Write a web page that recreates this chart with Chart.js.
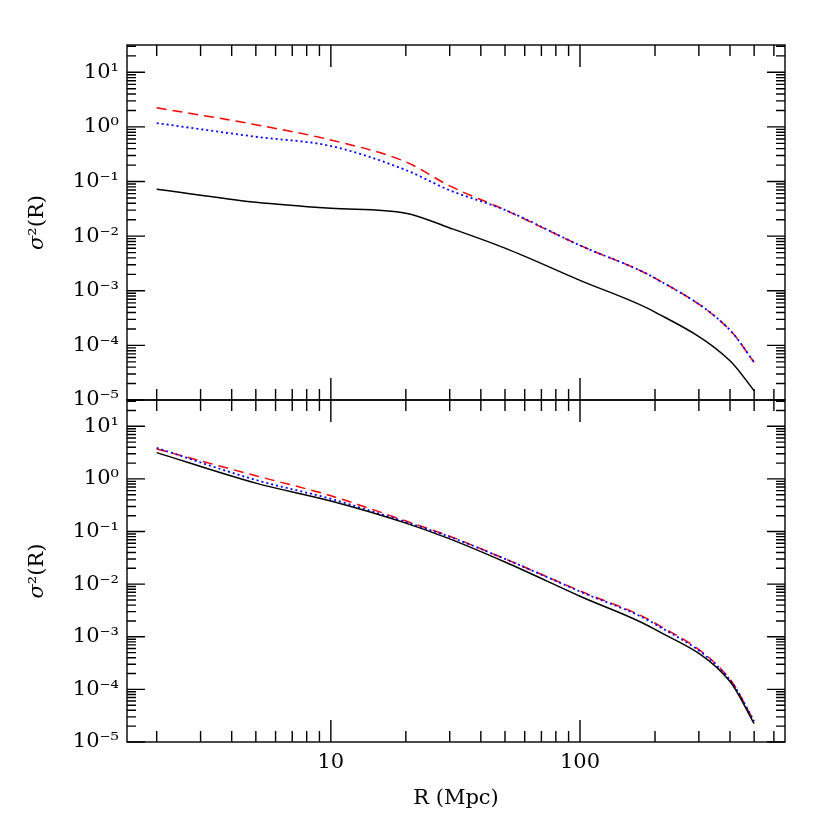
<!DOCTYPE html><html><head><script src="https://cdn.jsdelivr.net/npm/chart.js@4"></script>
<style>body{margin:0;background:#fff}canvas{position:absolute;left:0;top:0}</style></head><body>
<div style="position:absolute;left:0;top:0;width:830px;height:830px"><canvas id="c1" width="830" height="830"></canvas><canvas id="c2" width="830" height="830"></canvas></div>
<script>
const R = [2,5,10,20,30,50,100,200,400,500];
const topRed   = [0.35,0.04,-0.24,-0.64,-1.08,-1.52,-2.17,-2.77,-3.72,-4.31];
const topBlue  = [0.07,-0.18,-0.35,-0.79,-1.16,-1.52,-2.17,-2.77,-3.72,-4.31];
const topBlack = [-1.14,-1.38,-1.49,-1.58,-1.85,-2.22,-2.81,-3.39,-4.28,-4.83];
const botRed   = [0.57,0.06,-0.32,-0.80,-1.09,-1.52,-2.13,-2.74,-3.81,-4.61];
const botBlue  = [0.59,-0.02,-0.38,-0.82,-1.10,-1.52,-2.14,-2.76,-3.82,-4.60];
const botBlack = [0.50,-0.08,-0.42,-0.84,-1.14,-1.58,-2.23,-2.86,-3.85,-4.65];
const yTickExp = [-5,-4,-3,-2,-1,0,1];
const xTickLabels = [10,100];
const sup = {'-':'⁻','0':'⁰','1':'¹','2':'²','3':'³','4':'⁴','5':'⁵'};
const pts = a => a.map((v,i)=>({x:R[i],y:Math.pow(10,v)}));
const FONT = '21px "DejaVu Serif"';
function axesPlugin(isBottom){return {id:'ax',afterDraw(ch){
  const c=ch.ctx, a=ch.chartArea, xs=ch.scales.x, ys=ch.scales.y;
  c.save(); c.strokeStyle='#000'; c.lineWidth=1.4;
  c.strokeRect(a.left,a.top,a.right-a.left,a.bottom-a.top);
  c.beginPath();
  for(let d=1;d<=1000;d*=10) for(let m=1;m<10;m++){const v=d*m; if(v<xs.min||v>xs.max)continue;
    const px=xs.getPixelForValue(v), L=m===1?22:11;
    c.moveTo(px,a.bottom);c.lineTo(px,a.bottom-L);c.moveTo(px,a.top);c.lineTo(px,a.top+L);}
  for(let e=-6;e<=2;e++) for(let m=1;m<10;m++){const v=m*Math.pow(10,e); if(v<ys.min||v>ys.max)continue;
    const py=ys.getPixelForValue(v), L=m===1?18:9;
    c.moveTo(a.left,py);c.lineTo(a.left+L,py);c.moveTo(a.right,py);c.lineTo(a.right-L,py);}
  c.stroke();
  c.fillStyle='#000'; c.font=FONT; c.textBaseline='middle';
  yTickExp.forEach(e=>{const py=ys.getPixelForValue(Math.pow(10,e));
    const s='10'+String(e).split('').map(ch=>sup[ch]).join('');
    c.textAlign='right'; c.fillText(s,a.left-8,py);});
  c.save(); c.translate(38,(a.top+a.bottom)/2); c.rotate(-Math.PI/2); c.textAlign='left';
  c.font='italic 21px "DejaVu Serif"'; const w1=c.measureText('σ').width;
  c.font=FONT; const w2=c.measureText('²(R)').width; const x0=-(w1+w2)/2;
  c.font='italic 21px "DejaVu Serif"'; c.fillText('σ',x0,0);
  c.font=FONT; c.fillText('²(R)',x0+w1,0); c.restore();
  if(isBottom){ c.textAlign='center'; c.textBaseline='top';
    xTickLabels.forEach(v=>c.fillText(String(v),xs.getPixelForValue(v),a.bottom+10));
    c.fillText('R (Mpc)',(a.left+a.right)/2,a.bottom+46);}
  c.restore();}};}
function make(id,red,blue,black,pad,isBottom){
  const ds=(d,col,w,dash)=>({data:pts(d),borderColor:col,borderWidth:w,borderDash:dash,pointRadius:0,cubicInterpolationMode:'monotone'});
  return new Chart(document.getElementById(id),{type:'line',
   data:{datasets:[ds(black,'#000',1.5,[]),ds(blue,'#0000ff',1.8,[2,3]),ds(red,'#ff0000',1.5,[10,6])]},
   options:{responsive:false,animation:false,layout:{padding:pad},
    plugins:{legend:{display:false},tooltip:{enabled:false}},
    scales:{x:{type:'logarithmic',min:1.52,max:665,display:false},
            y:{type:'logarithmic',min:1e-5,max:Math.pow(10,1.5),display:false}}},
   plugins:[axesPlugin(isBottom)]});}
make('c1',topRed,topBlue,topBlack,{left:127,right:45,top:45,bottom:430},false);
make('c2',botRed,botBlue,botBlack,{left:127,right:45,top:400,bottom:88},true);
</script></body></html>
